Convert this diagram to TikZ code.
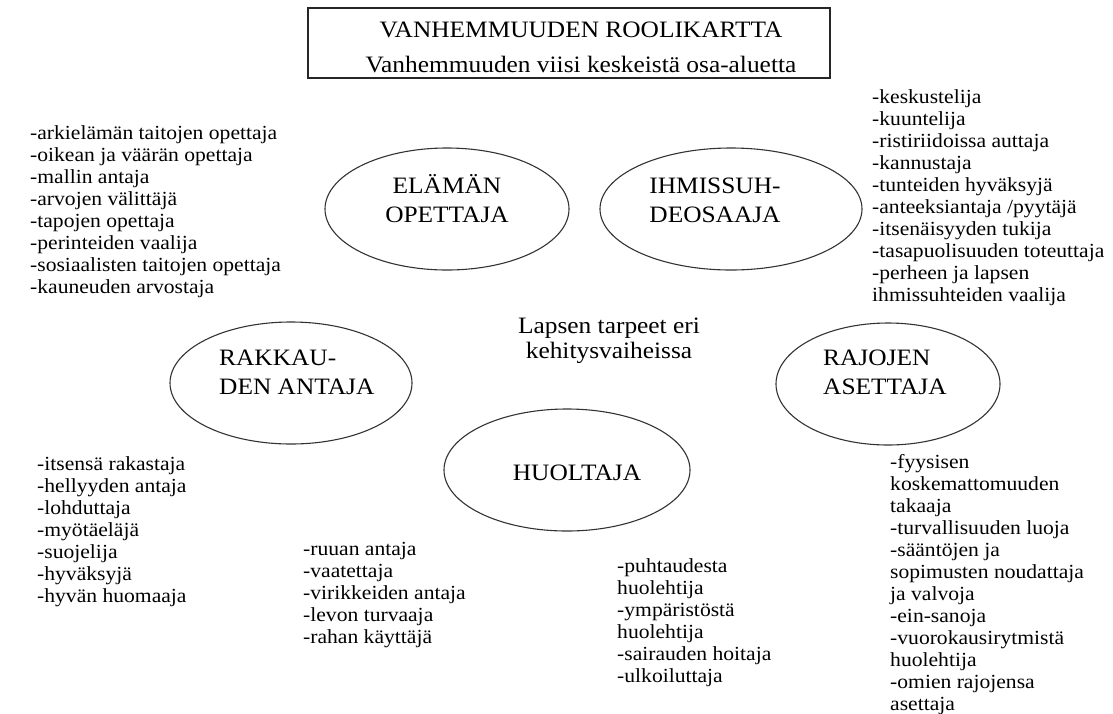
\documentclass[tikz,border=0pt]{standalone}
\usepackage{fontspec}
\setmainfont{Liberation Serif}[FakeStretch=1.08]
\usetikzlibrary{shapes.geometric}
\begin{document}
\begin{tikzpicture}[x=1pt,y=-1pt,
  role/.style={draw=black!80, line width=1.1pt, ellipse, inner sep=0pt},
  roletext/.style={font=\fontsize{23.5}{28.5}\selectfont, inner sep=0pt},
  listtext/.style={font=\fontsize{20}{22}\selectfont, inner sep=0pt, anchor=base west},
  titlebox/.style={draw=black!85, line width=1.3pt, minimum width=522, minimum height=70, inner sep=0pt}
]
\useasboundingbox (0,0) rectangle (1113,713);

% title
\node[titlebox] (box) at (569,43) {};
\node[roletext, anchor=base] (title) at (581,37) {\begin{tabular}[t]{@{}c@{}}VANHEMMUUDEN ROOLIKARTTA\\[6.5pt] Vanhemmuuden viisi keskeistä osa-aluetta\end{tabular}};

% ellipses
\node[role, minimum width=244, minimum height=122] (e1) at (447,209) {};
\node[role, minimum width=262, minimum height=122] (e2) at (731,209) {};
\node[role, minimum width=242, minimum height=122] (e3) at (291,383) {};
\node[role, minimum width=246, minimum height=122] (e4) at (567,470) {};
\node[role, minimum width=224, minimum height=122] (e5) at (888,384) {};

\node[roletext, anchor=base] (t1) at (447,193.5) {\begin{tabular}[t]{@{}c@{}}ELÄMÄN\\ OPETTAJA\end{tabular}};
\node[roletext, anchor=base] (t2) at (715,193.5) {\begin{tabular}[t]{@{}c@{}}IHMISSUH-\\ DEOSAAJA\end{tabular}};
\node[roletext, anchor=base west] (t3) at (219,365.5) {\begin{tabular}[t]{@{}l@{}}RAKKAU-\\ DEN ANTAJA\end{tabular}};
\node[roletext, anchor=base] (t4) at (577,480) {HUOLTAJA};
\node[roletext, anchor=base west] (t5) at (823,365.5) {\begin{tabular}[t]{@{}l@{}}RAJOJEN\\ ASETTAJA\end{tabular}};

% centre
\node[font=\fontsize{23.5}{25}\selectfont, inner sep=0pt, anchor=base] (centre) at (609,333) {\begin{tabular}[t]{@{}c@{}}Lapsen tarpeet eri\\ kehitysvaiheissa\end{tabular}};

% lists
\node[listtext] (l1) at (30,139) {\begin{tabular}[t]{@{}l@{}}
-arkielämän taitojen opettaja\\ -oikean ja väärän opettaja\\ -mallin antaja\\ -arvojen välittäjä\\
-tapojen opettaja\\ -perinteiden vaalija\\ -sosiaalisten taitojen opettaja\\ -kauneuden arvostaja\end{tabular}};

\node[listtext] (l2) at (872,103) {\begin{tabular}[t]{@{}l@{}}
-keskustelija\\ -kuuntelija\\ -ristiriidoissa auttaja\\ -kannustaja\\ -tunteiden hyväksyjä\\
-anteeksiantaja /pyytäjä\\ -itsenäisyyden tukija\\ -tasapuolisuuden toteuttaja\\ -perheen ja lapsen\\ ihmissuhteiden vaalija\end{tabular}};

\node[listtext] (l3) at (37,470) {\begin{tabular}[t]{@{}l@{}}
-itsensä rakastaja\\ -hellyyden antaja\\ -lohduttaja\\ -myötäeläjä\\ -suojelija\\ -hyväksyjä\\ -hyvän huomaaja\end{tabular}};

\node[listtext] (l4) at (303,555) {\begin{tabular}[t]{@{}l@{}}
-ruuan antaja\\ -vaatettaja\\ -virikkeiden antaja\\ -levon turvaaja\\ -rahan käyttäjä\end{tabular}};

\node[listtext] (l5) at (617,572) {\begin{tabular}[t]{@{}l@{}}
-puhtaudesta\\ huolehtija\\ -ympäristöstä\\ huolehtija\\ -sairauden hoitaja\\ -ulkoiluttaja\end{tabular}};

\node[listtext] (l6) at (890,468) {\begin{tabular}[t]{@{}l@{}}
-fyysisen\\ koskemattomuuden\\ takaaja\\ -turvallisuuden luoja\\ -sääntöjen ja\\ sopimusten noudattaja\\
ja valvoja\\ -ein-sanoja\\ -vuorokausirytmistä\\ huolehtija\\ -omien rajojensa\\ asettaja\end{tabular}};
\end{tikzpicture}
\end{document}
